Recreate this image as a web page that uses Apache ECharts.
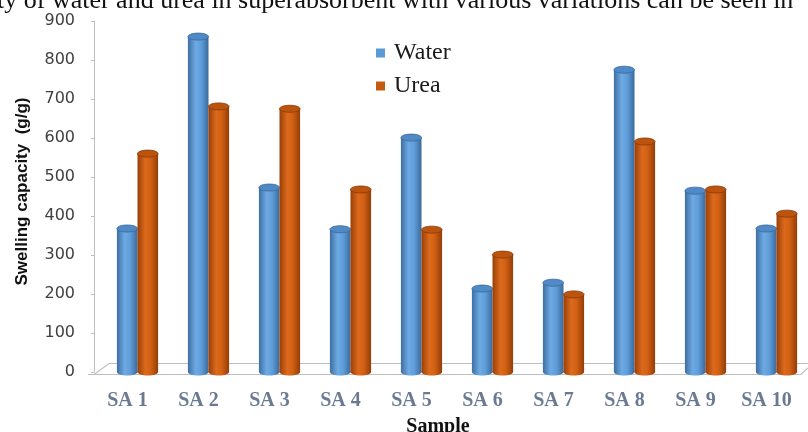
<!DOCTYPE html>
<html>
<head>
<meta charset="utf-8">
<script src="https://cdn.jsdelivr.net/npm/echarts@6/dist/echarts.min.js"></script>
<style>
  html, body { margin: 0; padding: 0; background: #ffffff; }
  #chart { width: 808px; height: 432px; }
</style>
</head>
<body>
<div id="chart"></div>
<script>
// Swelling capacity of superabsorbent samples in water and urea (g/g)
const samples = ['SA 1', 'SA 2', 'SA 3', 'SA 4', 'SA 5', 'SA 6', 'SA 7', 'SA 8', 'SA 9', 'SA 10'];
const water = [368, 860, 473, 366, 601, 214, 229, 775, 465, 368];
const urea = [560, 681, 675, 468, 365, 301, 199, 591, 468, 406];
const yTicks = [0, 100, 200, 300, 400, 500, 600, 700, 800, 900];

const chart = echarts.init(document.getElementById('chart'), null, { renderer: 'canvas' });

function cylGradient(edge, light, mid, edge2) {
  return new echarts.graphic.LinearGradient(0, 0, 1, 0, [
    { offset: 0, color: edge },
    { offset: 0.38, color: light },
    { offset: 0.65, color: mid },
    { offset: 1, color: edge2 }
  ]);
}

// Cylinder column: body + rounded bottom + elliptical cap, placed side by side in each category band
function cylinderSeries(name, values, side, colors) {
  return {
    name: name,
    type: 'custom',
    itemStyle: { color: colors.legend },
    encode: { x: 0, y: 1 },
    data: values.map((v, i) => [i, v]),
    z: side < 0 ? 3 : 4,
    renderItem: function (params, api) {
      const idx = api.value(0);
      const top = api.coord([idx, api.value(1)]);
      const base = api.coord([idx, 0]);
      const band = api.size([1, 0])[0];
      const w = band * 0.29;
      const cx = top[0] + side * w / 2;
      const ry = 3.5;
      const body = cylGradient(colors.edge, colors.light, colors.mid, colors.edge2);
      return {
        type: 'group',
        children: [
          { type: 'ellipse', shape: { cx: cx, cy: base[1], rx: w / 2, ry: ry }, style: { fill: body } },
          { type: 'rect', shape: { x: cx - w / 2, y: top[1], width: w, height: base[1] - top[1] }, style: { fill: body } },
          { type: 'ellipse', shape: { cx: cx, cy: top[1], rx: w / 2, ry: ry },
            style: { fill: colors.cap, stroke: colors.capStroke, lineWidth: 0.8 } }
        ]
      };
    }
  };
}

const waterColors = { legend: '#5b9bd5', edge: '#3d6fa3', light: '#6eaae3', mid: '#5f9dd9', edge2: '#3a6a9c', cap: '#4f8ac6', capStroke: '#3a6a9c' };
const ureaColors = { legend: '#c55a11', edge: '#9a3f08', light: '#dc6a1c', mid: '#d06013', edge2: '#943c07', cap: '#bb540f', capStroke: '#8c3806' };

const floorColor = '#bfbfbf';

chart.setOption({
  animation: false,
  backgroundColor: '#ffffff',
  grid: { left: 102, top: 21, width: 710, height: 351, containLabel: false, outerBoundsMode: 'none' },
  legend: {
    orient: 'vertical',
    left: 371,
    top: 36,
    itemWidth: 9,
    itemHeight: 9,
    itemGap: 9,
    icon: 'rect',
    textStyle: { fontFamily: 'Liberation Serif', fontSize: 24, color: '#1a1a1a', padding: [0, 0, 0, 4] },
    data: [
      { name: 'Water', itemStyle: { color: '#5b9bd5' } },
      { name: 'Urea', itemStyle: { color: '#c55a11' } }
    ]
  },
  xAxis: {
    type: 'category',
    data: samples,
    axisLine: { show: false },
    axisTick: { show: false },
    axisLabel: {
      margin: 19,
      padding: [0, 20, 0, 0],
      fontFamily: 'Liberation Serif',
      fontWeight: 'bold',
      fontSize: 20,
      color: '#6b7a92'
    },
    name: 'Sample',
    nameLocation: 'middle',
    nameGap: 45,
    nameTextStyle: {
      fontFamily: 'Liberation Serif',
      fontWeight: 'bold',
      fontSize: 20,
      color: '#111111',
      padding: [0, 38, 0, 0]
    }
  },
  yAxis: {
    type: 'value',
    min: yTicks[0],
    max: yTicks[yTicks.length - 1],
    interval: 100,
    offset: 8,
    splitLine: { show: false },
    axisLine: { show: true, lineStyle: { color: floorColor, width: 1 } },
    axisTick: { show: true, inside: false, length: 3, lineStyle: { color: floorColor } },
    axisLabel: {
      margin: 19,
      fontFamily: 'DejaVu Sans',
      fontSize: 16,
      color: '#404040'
    },
    name: 'Swelling capacity  (g/g)',
    nameLocation: 'middle',
    nameGap: 63,
    nameTextStyle: {
      fontFamily: 'Liberation Sans',
      fontWeight: 'bold',
      fontSize: 17,
      color: '#111111',
      padding: [0, 0, 0, 10]
    }
  },
  graphic: [
    // running caption line above the plot
    {
      type: 'text',
      left: -3,
      top: -12,
      silent: true,
      style: {
        text: 'ty of water and urea in superabsorbent with various variations can be seen in',
        font: '26px "Liberation Serif"',
        fill: '#111111'
      }
    },
    // chart floor outline
    {
      type: 'polyline',
      silent: true,
      shape: { points: [[88, 374.5], [801, 374.5], [808, 368]] },
      style: { stroke: floorColor, lineWidth: 1.2, fill: null }
    },
    {
      type: 'polyline',
      silent: true,
      shape: { points: [[94, 374.5], [109, 363.5], [808, 363.5]] },
      style: { stroke: floorColor, lineWidth: 1.2, fill: null }
    }
  ],
  series: [
    cylinderSeries('Water', water, -1, waterColors),
    cylinderSeries('Urea', urea, 1, ureaColors)
  ]
});
</script>
</body>
</html>
